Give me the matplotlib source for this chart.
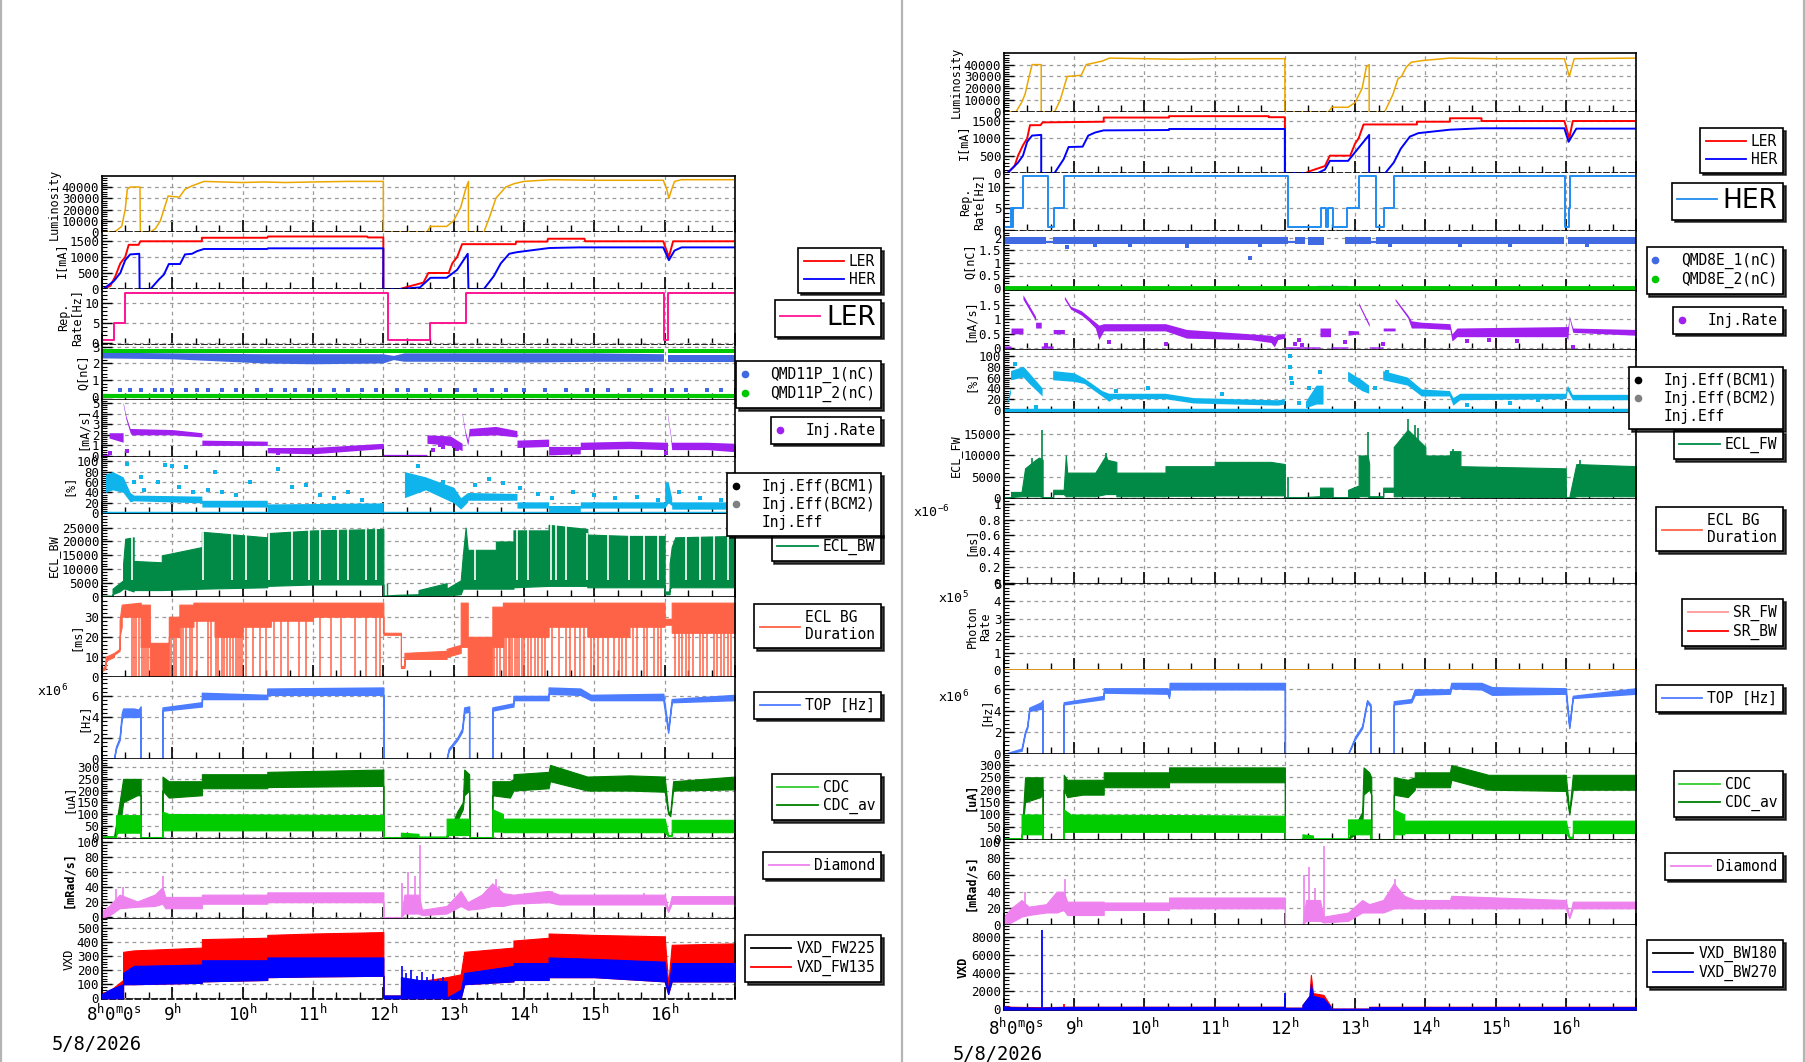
import numpy as np
import matplotlib
matplotlib.use("Agg")
import matplotlib.pyplot as plt
from matplotlib.ticker import MultipleLocator, AutoMinorLocator, FuncFormatter
from matplotlib.lines import Line2D
import matplotlib.transforms as mtrans

nan = np.nan
W, H = 1806, 1062

plt.rcParams['font.family'] = ['DejaVu Sans Mono', 'DejaVu Sans']
plt.rcParams['mathtext.default'] = 'regular'

# ---------------- data, left page (LER) ----------------
lumi_l_t = [8.0, 8.17, 8.22, 8.28, 8.33, 8.36, 8.40, 8.54, 8.545, 8.69, 8.76, 8.83, 8.88, 8.94, 9.10, 9.18, 9.28, 9.45, 9.7, 10.0,
            10.3, 10.6, 11.0, 11.5, 12.0, 12.0, 12.62, 12.67, 12.9, 13.0, 13.1, 13.17, 13.21, 13.21, 13.43, 13.52, 13.6, 13.74, 13.86, 14.0,
            14.38, 15.0, 15.5, 15.98, 16.03, 16.06, 16.1, 16.14, 16.24, 17.0]
lumi_l_v = [0, 0, 2000, 5000, 20000, 38000, 40000, 40000, 0, 0, 3000, 10000, 20000, 32000, 31000, 38000, 41000, 45000, 44500, 44000,
            44500, 44000, 44500, 45000, 45000, 0, 0, 5000, 5000, 10000, 22000, 38000, 45000, 0, 0, 15000, 30000, 40000, 43000, 45000,
            46500, 46000, 46000, 46000, 38000, 30000, 38000, 45000, 46500, 46500]

ler_l_t = [8.0, 8.02, 8.12, 8.19, 8.26, 8.33, 8.38, 8.52, 8.545, 9.42, 9.42, 10.35, 10.36, 11.77, 11.78, 12.0, 12.0, 12.24, 12.33, 12.57,
           12.64, 12.93, 12.98, 13.05, 13.12, 13.88, 13.89, 14.33, 14.34, 14.86, 14.87, 15.98, 16.06, 16.12, 17.0]
ler_l_v = [0, 0, 100, 400, 800, 1000, 1380, 1380, 1490, 1490, 1600, 1600, 1640, 1640, 1610, 1610, 0, 0, 60, 200,
           500, 500, 800, 1000, 1400, 1400, 1480, 1480, 1570, 1570, 1490, 1490, 1000, 1490, 1490]
her_l_t = [8.0, 8.02, 8.17, 8.26, 8.33, 8.40, 8.53, 8.535, 8.69, 8.81, 8.88, 8.95, 9.11, 9.18, 9.28, 9.35, 9.45, 10.35, 10.36, 12.0,
           12.0, 12.24, 12.52, 12.67, 12.9, 13.05, 13.2, 13.21, 13.43, 13.57, 13.67, 13.79, 13.9, 14.36, 14.79, 15.98, 16.06, 16.14, 16.24, 17.0]
her_l_v = [0, 0, 250, 500, 900, 1080, 1100, 0, 0, 300, 450, 780, 780, 1080, 1100, 1180, 1250, 1250, 1270, 1270,
           0, 0, 50, 350, 350, 600, 1100, 0, 0, 400, 800, 1100, 1150, 1280, 1300, 1300, 900, 1200, 1300, 1300]

rep_l_t = [8.0, 8.17, 8.32, 12.06, 12.67, 13.17, 15.99, 16.05, 17.0]
rep_l_v = [0.8, 5, 12.5, 0.8, 5, 12.5, 0.8, 12.5, 12.5]

q1_l_t = [8.0, 9.0, 10.3, 11.0, 12.0, 12.15, 12.3, 13.0, 14.0, 15.0, 15.99, 16.02, 16.05, 17.0]
q1_l_lo = [2.3, 2.25, 2.0, 1.95, 2.0, 2.2, 2.1, 2.1, 2.05, 2.1, 2.1, nan, 2.1, 2.1]
q1_l_hi = [2.65, 2.6, 2.55, 2.55, 2.55, 2.45, 2.6, 2.6, 2.6, 2.6, 2.55, nan, 2.5, 2.5]
q2_l_t = [8.0, 12.0, 15.99, 16.02, 16.05, 17.0]
q2_l_lo = [2.62, 2.62, 2.62, nan, 2.62, 2.62]
q2_l_hi = [2.85, 2.85, 2.85, nan, 2.85, 2.85]
q2_l_base = [0.03, 0.03, 0.03, nan, 0.03, 0.03]
q1_l_stray = [8.25, 8.4, 8.55, 8.75, 8.85, 9.0, 9.2, 9.35, 9.5, 9.7, 9.9, 10.2, 10.4, 10.6, 10.75, 10.95, 11.1, 11.3, 11.5, 11.7,
              11.9, 12.2, 12.35, 12.6, 12.8, 13.05, 13.3, 13.55, 13.75, 14.0, 14.3, 14.6, 14.9, 15.2, 15.5, 15.8, 16.1, 16.3, 16.6, 16.8]

ir_l_t = [8.0, 8.1, 8.1, 8.3, 8.3, 8.34, 8.4, 8.42, 9.0, 9.42, 9.42, 10.35, 10.35, 11.0, 12.0, 12.0, 12.62, 12.62, 12.95, 13.12,
          13.12, 13.16, 13.2, 13.22, 13.6, 13.9, 13.9, 14.35, 14.35, 14.8, 14.8, 15.5, 16.0, 16.04, 16.04, 16.08, 16.1, 16.6, 17.0]
ir_l_lo = [0, 0, 1.7, 1.3, 4.9, 3.5, 2.2, 2.0, 2.0, 1.8, 1.0, 1.0, 0.3, 0.2, 0.7, 0, 0, 1.2, 1.0, 0.5,
           3.9, 2.2, 1.0, 1.9, 2.0, 1.8, 0.8, 0.9, 0.1, 0.2, 0.6, 0.7, 0.6, 0.5, 3.8, 2.0, 0.6, 0.6, 0.4]
ir_l_hi = [0.15, 0.15, 2.2, 2.2, 5.1, 3.8, 2.6, 2.6, 2.5, 2.2, 1.5, 1.4, 0.8, 0.8, 1.2, 0.15, 0.15, 2.0, 1.9, 1.2,
           4.1, 2.5, 1.5, 2.6, 2.8, 2.4, 1.5, 1.6, 0.9, 0.9, 1.3, 1.4, 1.3, 1.3, 4.0, 2.3, 1.3, 1.3, 1.2]
ir_l_stray = [(8.12, 0.3), (8.35, 0.5), (10.5, 0.3), (12.7, 0.6), (12.8, 1.0), (12.85, 0.8), (13.0, 0.9), (13.05, 0.7), (16.02, 0.3)]

ie_l_t = [8.0, 8.05, 8.05, 8.15, 8.3, 8.4, 8.45, 9.42, 9.42, 10.35, 10.35, 12.0, 12.0, 12.3, 12.3, 12.6, 13.0, 13.1, 13.2, 13.2,
          13.9, 13.9, 14.35, 14.35, 14.8, 14.8, 16.0, 16.0, 16.05, 16.1, 16.1, 17.0]
ie_l_lo = [0, 0, 40, 45, 40, 22, 24, 20, 12, 12, 2, 3, 0, 0, 30, 45, 20, 8, 22, 25, 25, 10, 10, 2, 2, 10, 10, 10, 20, 15, 8, 8]
ie_l_hi = [2, 2, 75, 80, 70, 40, 35, 33, 25, 25, 18, 20, 2, 2, 80, 70, 50, 30, 40, 40, 38, 22, 22, 15, 15, 22, 22, 60, 60, 30, 22, 22]
ie_l_stray = [(8.35, 95), (8.45, 60), (8.55, 70), (8.6, 45), (8.7, 30), (8.8, 60), (8.9, 92), (9.0, 90), (9.1, 50), (9.2, 88),
              (9.3, 40), (9.5, 45), (9.6, 80), (9.7, 40), (9.9, 35), (10.1, 60), (10.5, 85), (10.7, 50), (10.9, 55), (11.1, 35),
              (11.3, 30), (11.5, 40), (11.7, 25), (12.5, 90), (12.85, 60), (13.3, 55), (13.5, 65), (13.7, 58), (13.95, 48),
              (14.2, 38), (14.4, 30), (14.7, 40), (15.0, 35), (15.3, 30), (15.6, 32), (15.9, 25), (16.2, 40), (16.5, 30), (16.8, 25)]

bw_l_t = [8.0, 8.15, 8.15, 8.25, 8.3, 8.3, 8.33, 8.45, 8.45, 8.85, 8.85, 9.42, 9.42, 10.35, 10.35, 11.0, 12.0, 12.0, 12.2, 12.5,
          12.5, 12.9, 12.9, 13.1, 13.13, 13.17, 13.2, 13.6, 13.6, 13.85, 13.85, 14.35, 14.35, 14.9, 14.9, 15.5, 16.0, 16.0, 16.07, 16.07,
          16.1, 16.15, 17.0]
bw_l_lo = [0, 0, 1000, 2000, 3000, 3000, 3000, 2000, 2500, 2500, 2500, 3000, 3000, 3500, 4000, 4500, 4500, 0, 0, 200,
           500, 500, 500, 1000, 3000, 3000, 3000, 3000, 3000, 3000, 3500, 4000, 4000, 4000, 3500, 3500, 3500, 1000, 1000, 3000,
           3500, 3500, 3500]
bw_l_hi = [500, 500, 3000, 5000, 6000, 12000, 21000, 21500, 13000, 12500, 15000, 18000, 23500, 21500, 23000, 24000, 24500, 500, 800, 1000,
           2500, 5000, 3000, 6000, 15000, 25000, 17000, 17000, 20000, 20000, 24000, 24000, 26000, 24500, 22500, 22000, 22000, 2000, 2000, 12000,
           18000, 21500, 22000]
bw_l_gaps = [8.42, 9.44, 9.85, 10.05, 10.38, 10.7, 10.95, 11.1, 11.35, 11.5, 11.75, 11.9, 13.3, 13.9, 14.05, 14.38, 14.45, 14.6,
             14.9, 15.2, 15.5, 15.7, 15.9, 16.3, 16.5, 16.7, 16.9]

bg_l_t = [8.0, 8.05, 8.05, 8.17, 8.17, 8.25, 8.25, 8.28, 8.28, 8.55, 8.55, 8.68, 8.68, 8.95, 8.95, 9.1, 9.1, 9.3, 9.3, 9.6,
          9.6, 10.0, 10.0, 10.4, 10.4, 11.0, 11.0, 12.0, 12.0, 12.25, 12.25, 12.3, 12.3, 12.9, 12.9, 13.1, 13.1, 13.2, 13.2, 13.55,
          13.55, 13.7, 13.7, 14.35, 14.35, 14.9, 14.9, 15.5, 15.5, 16.0, 16.0, 16.1, 16.1, 17.0]
bg_l_lo = [3, 4, 8, 10, 11, 13, 20, 25, 30, 30, 15, 15, 0, 0, 20, 20, 25, 25, 28, 28,
           20, 20, 25, 25, 28, 28, 30, 30, 21, 21, 4.5, 4.5, 9, 9, 10, 12, 15, 15, 0, 0,
           15, 15, 20, 20, 25, 25, 20, 20, 25, 25, 26, 26, 22, 22]
bg_l_hi = [4, 6, 10, 12, 12, 14, 28, 36, 36, 37, 36, 36, 17, 17, 30, 30, 36, 36, 37, 37,
           37, 37, 37, 37, 37, 37, 37, 37, 22, 22, 5.5, 5.5, 12, 13, 14, 16, 37, 37, 20, 20,
           35, 35, 37, 37, 37, 37, 37, 37, 37, 37, 29, 29, 37, 37]
bg_l_drops = [8.42, 8.45, 8.48, 8.52, 8.57, 8.6, 8.62, 8.65, 8.98, 9.02, 9.05, 9.12, 9.15, 9.2, 9.25, 9.28, 9.35, 9.5, 9.55, 9.62,
              9.65, 9.7, 9.73, 9.78, 9.82, 9.86, 9.9, 9.93, 9.96, 9.99, 10.05, 10.15, 10.25, 10.33, 10.45, 10.55, 10.65, 10.8, 10.9,
              11.1, 11.25, 11.4, 11.6, 11.75, 11.9, 11.95, 13.58, 13.62, 13.66, 13.72, 13.75, 13.78, 13.8, 13.83, 13.87, 13.9, 13.93,
              13.97, 14.0, 14.05, 14.1, 14.15, 14.2, 14.25, 14.3, 14.4, 14.5, 14.6, 14.65, 14.72, 14.8, 14.85, 14.95, 15.0, 15.05,
              15.12, 15.2, 15.28, 15.35, 15.4, 15.45, 15.55, 15.6, 15.7, 15.75, 15.85, 15.9, 15.95, 16.15, 16.2, 16.25, 16.3, 16.35,
              16.4, 16.5, 16.55, 16.6, 16.7, 16.75, 16.8, 16.85, 16.9, 16.95]

top_l_t = [8.0, 8.17, 8.2, 8.25, 8.28, 8.3, 8.45, 8.52, 8.55, 8.55, 8.86, 8.86, 9.42, 9.42, 10.35, 10.35, 12.0, 12.0, 12.9, 12.93,
           13.05, 13.12, 13.15, 13.22, 13.22, 13.55, 13.55, 13.85, 13.85, 14.35, 14.35, 14.8, 14.95, 15.98, 16.05, 16.1, 17.0]
top_l_lo = [0, 0, 1.0, 1.8, 3.8, 4.0, 4.0, 4.0, 4.2, 0, 0, 4.6, 5.0, 5.7, 5.7, 6.1, 6.1, 0, 0, 0.8,
            1.8, 2.6, 4.4, 4.5, 0, 0, 4.6, 5.0, 5.6, 5.6, 6.2, 6.1, 5.6, 5.6, 2.5, 5.4, 5.6]
top_l_hi = [0, 0, 1.2, 2.0, 4.3, 4.8, 4.8, 4.7, 5.0, 0, 0, 4.9, 5.4, 6.3, 6.1, 6.7, 6.8, 0, 0, 1.0,
            2.0, 2.9, 4.9, 5.0, 0, 0, 4.9, 5.3, 6.0, 6.0, 6.8, 6.7, 6.1, 6.2, 2.8, 5.7, 6.1]

cdcav_l_t = [8.0, 8.17, 8.25, 8.3, 8.5, 8.55, 8.55, 8.86, 8.86, 8.95, 9.42, 9.42, 10.35, 10.35, 12.0, 12.0, 12.9, 13.05, 13.13, 13.15,
             13.22, 13.23, 13.55, 13.55, 13.8, 13.85, 13.85, 14.35, 14.37, 14.9, 15.5, 16.0, 16.05, 16.08, 16.12, 17.0]
cdcav_l_lo = [2, 2, 30, 150, 180, 180, 0, 0, 200, 170, 180, 210, 210, 215, 220, 0, 0, 70, 120, 180,
              200, 0, 0, 180, 170, 200, 200, 210, 240, 200, 200, 195, 100, 90, 200, 205]
cdcav_l_hi = [3, 3, 150, 250, 250, 250, 0, 0, 260, 240, 240, 270, 270, 280, 290, 0, 0, 110, 150, 290,
              270, 0, 0, 240, 240, 250, 270, 280, 310, 260, 265, 260, 110, 110, 240, 260]
cdc_l_t = [8.0, 8.2, 8.2, 8.55, 8.55, 8.86, 8.86, 8.95, 12.0, 12.0, 12.25, 12.25, 12.5, 12.5, 12.9, 12.9, 13.22, 13.22, 13.55, 13.55,
           13.7, 13.7, 16.0, 16.05, 16.1, 16.1, 17.0]
cdc_l_lo = [2, 2, 20, 20, 0, 0, 30, 30, 30, 0, 0, 5, 5, 2, 2, 10, 10, 0, 0, 25, 25, 22, 22, 5, 5, 22, 22]
cdc_l_hi = [3, 3, 95, 95, 0, 0, 110, 100, 95, 0, 0, 20, 15, 3, 3, 80, 80, 0, 0, 120, 100, 80, 80, 10, 10, 75, 75]

dia_l_t = [8.0, 8.1, 8.25, 8.5, 8.75, 8.86, 8.9, 9.42, 9.42, 10.35, 10.35, 12.0, 12.0, 12.25, 12.3, 12.5, 12.55, 12.9, 13.1, 13.2,
           13.4, 13.55, 13.7, 13.85, 14.35, 14.5, 16.0, 16.05, 16.1, 17.0]
dia_l_lo = [0, 2, 12, 14, 15, 18, 12, 12, 18, 18, 20, 20, 0, 0, 5, 5, 3, 5, 15, 10, 12, 15, 15, 18, 20, 17, 17, 7, 18, 18]
dia_l_hi = [8, 15, 30, 21, 30, 40, 27, 27, 30, 30, 33, 33, 0, 0, 30, 30, 10, 15, 35, 20, 30, 45, 32, 30, 35, 30, 30, 10, 28, 28]
dia_l_spk_t = [8.2, 8.3, 8.87, 12.27, 12.35, 12.45, 12.52, 13.6, 13.65, 14.4, 15.7]
dia_l_spk_v = [38, 40, 55, 45, 60, 55, 95, 50, 42, 35, 32]

vxd_l_t = [8.0, 8.1, 8.3, 8.3, 8.45, 9.42, 9.42, 10.35, 10.35, 11.0, 12.0, 12.0, 12.25, 12.25, 12.5, 12.9, 12.9, 13.1, 13.15, 13.85,
           13.85, 14.35, 14.35, 15.0, 16.0, 16.05, 16.1, 17.0]
vxd_l_lo = [0, 0, 0, 100, 100, 110, 120, 130, 150, 155, 160, 0, 0, 0, 0, 0, 0, 0, 100, 120, 130, 130, 150, 150, 120, 30, 120, 120]
fw225_hi = [40, 50, 130, 330, 340, 360, 420, 430, 450, 460, 470, 20, 20, 80, 120, 150, 150, 170, 330, 360, 410, 430, 460, 450, 440, 100, 380, 390]
fw135_hi = [30, 60, 100, 180, 230, 240, 270, 270, 290, 290, 290, 20, 20, 150, 130, 120, 5, 60, 180, 230, 250, 250, 290, 280, 260, 50, 250, 250]
fw135_spk_t = [12.27, 12.32, 12.4, 12.48, 12.55, 12.62, 12.7, 12.78, 12.85]
fw135_spk_v = [230, 180, 200, 160, 190, 150, 170, 140, 150]

# ---------------- data, right page (HER) ----------------
lumi_r_t = [8.0, 8.17, 8.25, 8.3, 8.35, 8.4, 8.53, 8.53, 8.72, 8.8, 8.9, 9.1, 9.17, 9.25, 9.4, 9.5, 10.0, 10.5, 11.0, 11.5,
            12.0, 12.0, 12.62, 12.67, 12.9, 13.0, 13.1, 13.16, 13.2, 13.2, 13.42, 13.54, 13.61, 13.66, 13.73, 13.8, 13.97, 14.35, 15.0, 15.5,
            15.98, 16.05, 16.12, 17.0]
lumi_r_v = [0, 0, 8000, 15000, 28000, 40000, 40000, 0, 0, 10000, 30000, 31000, 40000, 41000, 43000, 45500, 45000, 44500, 45000, 45000,
            45000, 0, 0, 4000, 4000, 8000, 20000, 38000, 40000, 0, 0, 15000, 28000, 30000, 38000, 42000, 43500, 45500, 45000, 45000,
            45000, 30000, 45000, 45500]
ler_r_t = [8.0, 8.05, 8.15, 8.2, 8.27, 8.33, 8.37, 8.52, 8.55, 9.42, 9.42, 10.35, 10.35, 11.77, 11.77, 12.0, 12.0, 12.3, 12.35, 12.57,
           12.64, 12.93, 13.0, 13.05, 13.12, 13.88, 13.88, 14.35, 14.35, 14.8, 14.8, 15.98, 16.05, 16.1, 17.0]
ler_r_v = [0, 0, 200, 500, 800, 1000, 1380, 1380, 1460, 1480, 1600, 1600, 1640, 1640, 1610, 1610, 0, 0, 50, 200,
           500, 500, 850, 1000, 1400, 1400, 1480, 1480, 1580, 1580, 1500, 1500, 1000, 1500, 1500]
her_r_t = [8.0, 8.05, 8.2, 8.27, 8.33, 8.4, 8.53, 8.53, 8.72, 8.85, 8.92, 9.12, 9.2, 9.3, 9.42, 10.35, 10.35, 12.0, 12.0, 12.47,
           12.57, 12.64, 12.9, 13.0, 13.2, 13.2, 13.43, 13.55, 13.65, 13.78, 13.9, 14.35, 14.8, 15.98, 16.04, 16.15, 17.0]
her_r_v = [0, 0, 300, 500, 900, 1080, 1100, 0, 0, 400, 750, 760, 1080, 1170, 1230, 1240, 1270, 1270, 0, 0,
           100, 350, 350, 600, 1100, 0, 0, 300, 700, 1050, 1150, 1250, 1290, 1290, 900, 1280, 1280]

rep_r_t = [8.0, 8.1, 8.11, 8.13, 8.27, 8.63, 8.71, 8.86, 12.05, 12.52, 12.58, 12.61, 12.69, 12.89, 13.06, 13.3, 13.41, 13.56,
           15.99, 16.04, 16.06, 17.0]
rep_r_v = [0.6, 5, 0.6, 5, 12.5, 0.6, 5, 12.5, 0.6, 5, 0.6, 5, 0.6, 5, 12.5, 0.6, 5, 12.5, 0.6, 5, 12.5, 12.5]

q1_r_t = [8.0, 8.6, 8.62, 8.7, 12.0, 12.05, 12.1, 12.15, 12.28, 12.3, 12.33, 12.55, 12.7, 12.85, 13.23, 13.26, 13.3, 15.98, 16.0, 16.03, 17.0]
q1_r_lo = [1.77, 1.77, nan, 1.77, 1.77, 1.77, nan, 1.77, 1.77, nan, 1.73, 1.73, nan, 1.77, 1.77, nan, 1.77, 1.77, nan, 1.77, 1.77]
q1_r_hi = [2.05, 2.05, nan, 2.05, 2.05, 2.05, nan, 2.05, 2.05, nan, 2.02, 2.02, nan, 2.05, 2.05, nan, 2.05, 2.05, nan, 2.05, 2.05]
q1_r_link_t = [8.6, 8.7, nan, 12.05, 12.15, nan, 13.23, 13.3, nan, 12.47, 12.88]
q1_r_link_v = [1.84, 1.84, nan, 1.84, 1.84, nan, 1.84, 1.84, nan, 0.05, 0.05]
q1_r_stray = [(8.9, 1.65), (9.3, 1.7), (9.8, 1.72), (10.6, 1.68), (11.5, 1.2), (11.65, 1.7), (13.5, 1.72), (14.5, 1.7), (15.2, 1.72), (16.3, 1.7)]

ir_r_t = [8.0, 8.1, 8.1, 8.27, 8.27, 8.45, 8.45, 8.53, 8.53, 8.7, 8.7, 8.86, 8.86, 8.95, 9.1, 9.2, 9.3, 9.35, 9.42, 10.3,
          10.6, 11.5, 11.8, 11.85, 11.9, 12.0, 12.0, 12.5, 12.5, 12.65, 12.65, 12.9, 12.9, 13.05, 13.05, 13.2, 13.2, 13.4, 13.4, 13.57,
          13.57, 13.75, 13.8, 13.95, 14.35, 14.38, 14.45, 16.0, 16.03, 16.05, 16.1, 17.0]
ir_r_lo = [0, 0, 0.5, 0.5, 1.7, 0.95, 0.7, 0.7, 0, 0, 0.5, 0.5, 1.7, 1.35, 1.15, 0.95, 0.7, 0.3, 0.6, 0.6,
           0.35, 0.3, 0.2, 0.05, 0.3, 0.35, 0, 0, 0.4, 0.4, 0, 0, 0.45, 0.5, 1.5, 0.75, 0, 0, 0.6, 0.6,
           1.65, 1.05, 0.7, 0.7, 0.65, 0.25, 0.4, 0.4, 0.3, 1.05, 0.55, 0.45]
ir_r_hi = [0.08, 0.08, 0.7, 0.7, 1.85, 1.1, 0.9, 0.9, 0.08, 0.08, 0.65, 0.65, 1.8, 1.45, 1.3, 1.1, 0.9, 0.8, 0.85, 0.85,
           0.65, 0.5, 0.45, 0.4, 0.5, 0.5, 0.05, 0.05, 0.7, 0.7, 0.05, 0.05, 0.62, 0.6, 1.58, 0.85, 0.05, 0.05, 0.7, 0.7,
           1.72, 1.15, 0.95, 0.9, 0.85, 0.5, 0.7, 0.75, 0.75, 1.12, 0.7, 0.65]
ir_r_stray = [(8.6, 0.1), (9.5, 0.2), (10.3, 0.15), (12.15, 0.15), (12.2, 0.3), (12.25, 0.12), (12.85, 0.2), (13.4, 0.15),
              (14.6, 0.25), (14.9, 0.3), (15.3, 0.25), (16.1, 0.05)]

ie_r_t = [8.0, 8.05, 8.05, 8.1, 8.1, 8.28, 8.35, 8.55, 8.6, 8.7, 9.0, 9.15, 9.4, 9.5, 9.55, 10.3, 10.7, 11.9, 12.0, 12.1,
          12.3, 12.45, 12.55, 12.7, 12.9, 13.1, 13.2, 13.3, 13.4, 13.75, 13.95, 14.35, 14.4, 14.5, 16.0, 16.03, 16.1, 17.0]
ie_r_lo = [0, 0, 10, 30, 55, 60, 50, 25, nan, 55, 52, 48, 25, 15, 20, 20, 12, 8, 10, nan,
           3, 10, 10, nan, 53, 35, 30, nan, 55, 45, 25, 25, 8, 18, 20, 35, 18, 18]
ie_r_hi = [2, 2, 15, 40, 72, 80, 70, 40, nan, 72, 68, 58, 35, 30, 30, 30, 22, 18, 20, nan,
           15, 45, 45, nan, 71, 55, 45, nan, 72, 60, 38, 35, 22, 30, 30, 45, 28, 28]
ie_r_stray = [(8.15, 85), (8.45, 5), (9.6, 35), (10.05, 40), (11.1, 30), (12.07, 100), (12.07, 80), (12.08, 60), (12.1, 50),
              (12.2, 12), (12.35, 40), (12.5, 70), (13.28, 40), (13.45, 70), (14.6, 10), (15.2, 12), (15.6, 18)]

fw_t = [8.0, 8.1, 8.1, 8.25, 8.3, 8.45, 8.5, 8.55, 8.55, 8.7, 8.7, 8.85, 8.88, 8.9, 9.3, 9.45, 9.47, 9.6, 9.6, 10.3,
        10.3, 11.0, 11.0, 11.8, 12.0, 12.0, 12.25, 12.5, 12.5, 12.68, 12.68, 12.9, 12.9, 13.05, 13.05, 13.18, 13.2, 13.2, 13.4, 13.4,
        13.55, 13.55, 13.75, 14.0, 14.0, 14.35, 14.35, 14.5, 14.5, 16.0, 16.0, 16.05, 16.15, 17.0]
fw_lo = [0, 0, 300, 500, 500, 500, 500, 300, 0, 0, 1000, 1000, 500, 500, 500, 1000, 1000, 1000, 500, 500,
         600, 600, 700, 700, 700, 0, 0, 0, 300, 300, 0, 0, 300, 300, 500, 500, 0, 0, 0, 1500,
         1500, 500, 500, 500, 500, 500, 500, 500, 300, 300, 0, 0, 500, 500]
fw_hi = [300, 300, 1500, 1500, 7000, 9000, 9500, 9000, 300, 300, 2000, 2000, 10000, 6000, 6000, 10000, 9000, 8500, 6000, 6000,
         7500, 7500, 8500, 8500, 8000, 300, 300, 500, 2500, 2500, 300, 300, 2000, 3000, 10000, 10000, 8000, 500, 500, 2500,
         2500, 12000, 16000, 12000, 10000, 10000, 11000, 11000, 7500, 7000, 300, 300, 8000, 7500]
fw_spk_t = [8.4, 8.545, 9.45, 12.05, 13.18, 13.75, 13.8, 13.85, 13.9, 14.4, 16.2]
fw_spk_v = [9500, 16000, 10500, 5000, 15500, 18500, 15000, 17000, 16500, 11500, 9000]

top_r_t = [8.0, 8.25, 8.3, 8.33, 8.36, 8.53, 8.55, 8.55, 8.85, 8.85, 9.42, 9.42, 10.33, 10.35, 10.36, 12.0, 12.0, 12.9, 13.0, 13.1,
           13.15, 13.17, 13.22, 13.22, 13.55, 13.55, 13.8, 13.85, 14.35, 14.37, 14.8, 14.95, 16.0, 16.05, 16.1, 17.0]
top_r_lo = [0, 0.3, 1.9, 2.4, 4.0, 4.2, 4.6, 0, 0, 4.6, 5.1, 5.7, 5.6, 5.2, 6.0, 6.0, 0, 0, 1.4, 2.4,
            4.1, 4.8, 4.4, 0, 0, 4.6, 4.8, 5.5, 5.6, 6.1, 6.0, 5.5, 5.6, 2.4, 5.2, 5.6]
top_r_hi = [0, 0.5, 2.1, 2.6, 4.3, 4.8, 5.0, 0, 0, 4.8, 5.4, 6.1, 6.1, 5.4, 6.6, 6.6, 0, 0, 1.6, 2.6,
            4.3, 5.0, 4.6, 0, 0, 4.9, 5.1, 6.0, 6.0, 6.6, 6.6, 6.2, 6.1, 2.6, 5.4, 6.1]

cdcav_r_t = [8.0, 8.25, 8.3, 8.52, 8.55, 8.55, 8.85, 8.85, 8.9, 9.12, 9.42, 9.42, 10.35, 10.35, 12.0, 12.0, 12.9, 13.1, 13.12, 13.2,
             13.23, 13.23, 13.55, 13.55, 13.75, 13.85, 13.85, 14.35, 14.37, 14.9, 16.0, 16.05, 16.1, 17.0]
cdcav_r_lo = [2, 2, 150, 170, 200, 0, 0, 200, 170, 180, 180, 210, 210, 230, 230, 0, 0, 40, 180, 200,
              180, 0, 0, 180, 170, 200, 210, 210, 240, 200, 195, 100, 200, 200]
cdcav_r_hi = [3, 3, 250, 250, 250, 0, 0, 260, 240, 240, 240, 270, 270, 290, 290, 0, 0, 110, 290, 270,
              250, 0, 0, 250, 240, 250, 270, 270, 300, 260, 260, 110, 260, 260]
cdc_r_t = [8.0, 8.25, 8.25, 8.55, 8.55, 8.85, 8.85, 8.95, 12.0, 12.0, 12.25, 12.25, 12.4, 12.4, 12.9, 12.9, 13.22, 13.22, 13.55, 13.55,
           13.7, 13.7, 16.0, 16.05, 16.1, 16.1, 17.0]
cdc_r_lo = [2, 2, 20, 20, 0, 0, 30, 30, 30, 0, 0, 5, 5, 2, 2, 20, 20, 0, 0, 20, 20, 25, 25, 5, 5, 25, 25]
cdc_r_hi = [3, 3, 100, 100, 0, 0, 120, 100, 95, 0, 0, 20, 15, 3, 3, 80, 80, 0, 0, 120, 100, 75, 75, 10, 10, 75, 75]

dia_r_t = [8.0, 8.1, 8.25, 8.35, 8.6, 8.75, 8.85, 8.9, 9.42, 9.42, 10.35, 10.35, 12.0, 12.0, 12.25, 12.3, 12.5, 12.55, 12.9, 13.1,
           13.2, 13.4, 13.55, 13.7, 13.85, 14.35, 14.37, 16.0, 16.05, 16.1, 17.0]
dia_r_lo = [0, 3, 10, 12, 15, 15, 18, 12, 12, 18, 18, 20, 20, 0, 0, 5, 5, 3, 5, 15, 15, 15, 20, 20, 20, 20, 20, 20, 8, 20, 20]
dia_r_hi = [10, 20, 30, 22, 25, 40, 40, 28, 28, 27, 27, 33, 33, 0, 0, 30, 30, 10, 15, 30, 25, 30, 50, 35, 30, 30, 35, 30, 10, 28, 28]
dia_r_spk_t = [8.3, 8.87, 12.27, 12.35, 12.43, 12.55, 13.57, 14.2]
dia_r_spk_v = [40, 55, 60, 70, 45, 95, 55, 30]

vxd_r_t = [8.0, 8.1, 8.5, 8.9, 12.0, 12.0, 12.25, 12.25, 12.35, 12.37, 12.4, 12.55, 12.65, 12.65, 13.2, 13.2, 17.0]
bw180_hi = [400, 300, 250, 300, 300, 200, 200, 500, 1500, 3800, 1800, 1600, 400, 100, 100, 300, 300]
bw270_hi = [350, 250, 200, 280, 280, 180, 180, 500, 1500, 2800, 1500, 1200, 300, 80, 80, 250, 250]
bw270_spk_t = [8.54, 12.0]
bw270_spk_v = [8700, 1800]
bw180_spk_t = [8.85]
bw180_spk_v = [600]

hours = list(range(8, 17))

# ---------------- colours ----------------
C_LUMI = '#eba700'
C_LER = '#ff0000'
C_HER = '#0000ff'
C_REPL = '#ff1493'
C_REPH = '#1e8cf0'
C_Q1 = '#4169e1'
C_Q2 = '#00c800'
C_IR = '#a020f0'
C_IE = '#10b4ec'
C_ECL = '#008a45'
C_BG = '#ff6347'
C_TOP = '#4c7cff'
C_CDCAV = '#008000'
C_CDC = '#00cc00'
C_DIA = '#ee82ee'

fig = plt.figure(figsize=(W / 100, H / 100), dpi=100)


def make_stack(x0, x1, edges):
    axs = []
    for top, bot in zip(edges[:-1], edges[1:]):
        axs.append(fig.add_axes([x0 / W, 1 - bot / H, (x1 - x0) / W, (bot - top) / H]))
    return axs


fmt = FuncFormatter(lambda v, p: '%g' % (round(v, 6) + 0.0))


def style(ax, ylim, step, label, top=False, dashed=False, bold=False):
    ax.set_xlim(8, 17)
    ax.set_ylim(*ylim)
    ax.set_axisbelow(True)
    ax.xaxis.set_major_locator(MultipleLocator(1))
    ax.xaxis.set_minor_locator(MultipleLocator(1 / 3))
    ax.yaxis.set_major_locator(MultipleLocator(step))
    ax.yaxis.set_minor_locator(AutoMinorLocator(5))
    ax.yaxis.set_major_formatter(fmt)
    ax.tick_params(axis='x', which='both', direction='in', labelbottom=False, top=False)
    ax.tick_params(axis='x', which='major', length=9, width=1.2)
    ax.tick_params(axis='x', which='minor', length=5, width=1)
    ax.tick_params(axis='y', which='major', direction='in', length=7, width=1, labelsize=9, pad=2)
    ax.tick_params(axis='y', which='minor', direction='in', length=3.5, width=0.8)
    ax.grid(True, which='major', linestyle=(0, (3, 3)), color='#9a9a9a', lw=0.9)
    ax.spines['top'].set_visible(top)
    if dashed:
        ax.spines['bottom'].set_linestyle((0, (3, 2)))
    for s in ax.spines.values():
        s.set_linewidth(1.2)
    ax.set_ylabel(label, fontsize=8.5, labelpad=1, linespacing=1.0,
                  fontweight='bold' if bold else 'normal')


def band(ax, t, lo, hi, color, lw=0.0, z=2):
    ax.fill_between(np.array(t, float), np.array(lo, float), np.array(hi, float),
                    facecolor=color, edgecolor=color, lw=lw, zorder=z)


def dots(ax, pts, color, s=5):
    ax.scatter([p[0] for p in pts], [p[1] for p in pts], s=s, marker='s', color=color, lw=0, zorder=3)


def time_labels(ax, dy):
    tr = mtrans.blended_transform_factory(ax.transData, ax.transAxes)
    for h in hours:
        if h == 8:
            ax.text(8, 0, r'$8^{h}0^{m}0^{s}$', ha='left', va='top', fontsize=12.5,
                    transform=mtrans.offset_copy(tr, fig=fig, x=-16, y=dy, units='dots'))
        else:
            ax.text(h, 0, r'$%d^{h}$' % h, ha='center', va='top', fontsize=12.5,
                    transform=mtrans.offset_copy(tr, fig=fig, x=0, y=dy, units='dots'))


# ================= left page =================
axL = make_stack(102, 735, [176, 232, 289, 345, 400, 457, 514, 597, 677, 759, 839, 919, 999])

a = axL[0]
a.plot(lumi_l_t, lumi_l_v, color=C_LUMI, lw=1.1)
style(a, (0, 49800), 10000, 'Luminosity', top=True, dashed=True)

a = axL[1]
a.plot(ler_l_t, ler_l_v, color=C_LER, lw=1.4)
a.plot(her_l_t, her_l_v, color=C_HER, lw=1.4)
style(a, (0, 1780), 500, 'I[mA]', dashed=True)

a = axL[2]
a.plot(rep_l_t, rep_l_v, color=C_REPL, lw=1.4, drawstyle='steps-post')
style(a, (-0.5, 13.6), 5, 'Rep.\nRate[Hz]', dashed=True)

a = axL[3]
band(a, q1_l_t, q1_l_lo, q1_l_hi, C_Q1)
band(a, q2_l_t, q2_l_lo, q2_l_hi, C_Q2)
a.plot(q2_l_t, q2_l_base, color=C_Q2, lw=3)
dots(a, [(t, 0.4) for t in q1_l_stray], C_Q1, s=6)
style(a, (-0.18, 3.1), 1, 'Q[nC]')

a = axL[4]
band(a, ir_l_t, ir_l_lo, ir_l_hi, C_IR)
dots(a, ir_l_stray, C_IR, s=7)
style(a, (-0.1, 5.3), 1, '[mA/s]')

a = axL[5]
band(a, ie_l_t, ie_l_lo, ie_l_hi, C_IE)
a.plot([8, 17], [0, 0], color=C_IE, lw=2.5)
dots(a, ie_l_stray, C_IE, s=6)
style(a, (-1.3, 108), 20, '[%]')

a = axL[6]
band(a, bw_l_t, bw_l_lo, bw_l_hi, C_ECL, lw=0.8)
a.vlines(bw_l_gaps, 6000, np.interp(bw_l_gaps, bw_l_t, bw_l_hi) + 400, color='white', lw=1.2, zorder=3)
a.vlines([12.05], 0, 5000, color=C_ECL, lw=1)
style(a, (0, 29900), 5000, 'ECL_BW')

a = axL[7]
band(a, bg_l_t, bg_l_lo, bg_l_hi, C_BG, lw=0.8)
a.vlines(bg_l_drops, 0, np.interp(bg_l_drops, bg_l_t, bg_l_lo) + 1, color=C_BG, lw=1.1)
style(a, (0, 39.8), 10, '[ms]')

a = axL[8]
band(a, top_l_t, top_l_lo, top_l_hi, C_TOP, lw=1)
style(a, (0, 7.8), 2, '[Hz]')

a = axL[9]
band(a, cdcav_l_t, cdcav_l_lo, cdcav_l_hi, C_CDCAV, lw=0.8)
band(a, cdc_l_t, cdc_l_lo, cdc_l_hi, C_CDC, lw=0.8)
style(a, (-7, 335), 50, '[uA]')

a = axL[10]
band(a, dia_l_t, dia_l_lo, dia_l_hi, C_DIA, lw=0.8)
a.vlines(dia_l_spk_t, np.interp(dia_l_spk_t, dia_l_t, dia_l_lo), dia_l_spk_v, color=C_DIA, lw=1.2)
style(a, (-2.2, 103.5), 20, '[mRad/s]', bold=True)

a = axL[11]
band(a, vxd_l_t, vxd_l_lo, fw225_hi, C_LER, lw=0.8)
band(a, vxd_l_t, vxd_l_lo, fw135_hi, C_HER, lw=0.8, z=3)
a.vlines(fw135_spk_t, 0, fw135_spk_v, color=C_HER, lw=1.2, zorder=3)
style(a, (-5, 563), 100, 'VXD', dashed=True)
time_labels(a, -5)

# ================= right page =================
axR = make_stack(1004, 1636, [53, 112, 173, 231, 291, 350, 413, 499, 584, 670, 754, 840, 925, 1010])

a = axR[0]
a.plot(lumi_r_t, lumi_r_v, color=C_LUMI, lw=1.1)
style(a, (0, 49800), 10000, 'Luminosity', top=True, dashed=True)

a = axR[1]
a.plot(ler_r_t, ler_r_v, color=C_LER, lw=1.4)
a.plot(her_r_t, her_r_v, color=C_HER, lw=1.4)
style(a, (0, 1760), 500, 'I[mA]', dashed=True)

a = axR[2]
a.plot(rep_r_t, rep_r_v, color=C_REPH, lw=1.4, drawstyle='steps-post')
style(a, (-0.23, 13.2), 5, 'Rep.\nRate[Hz]', dashed=True)

a = axR[3]
band(a, q1_r_t, q1_r_lo, q1_r_hi, C_Q1)
a.plot(q1_r_link_t, q1_r_link_v, color=C_Q1, lw=1.6)
dots(a, q1_r_stray, C_Q1, s=6)
a.plot([8, 17], [0.0, 0.0], color=C_Q2, lw=3.5)
style(a, (-0.12, 2.28), 0.5, 'Q[nC]')

a = axR[4]
band(a, ir_r_t, ir_r_lo, ir_r_hi, C_IR)
dots(a, ir_r_stray, C_IR, s=7)
style(a, (-0.06, 1.98), 0.5, '[mA/s]')

a = axR[5]
band(a, ie_r_t, ie_r_lo, ie_r_hi, C_IE)
a.plot([8, 17], [0, 0], color=C_IE, lw=2.5)
dots(a, ie_r_stray, C_IE, s=6)
style(a, (-5.6, 111), 20, '[%]')

a = axR[6]
band(a, fw_t, fw_lo, fw_hi, C_ECL, lw=0.8)
a.vlines(fw_spk_t, np.interp(fw_spk_t, fw_t, fw_lo), fw_spk_v, color=C_ECL, lw=1.2)
style(a, (-150, 19900), 5000, 'ECL_FW')

a = axR[7]
style(a, (-0.015, 1.06), 0.2, '[ms]')

a = axR[8]
a.plot([8, 17], [0, 0], color='#ff9999', lw=1)
a.plot([8, 17], [0, 0], color='red', lw=1)
a.plot([8, 17], [0, 0], color='#f0a020', lw=1.3, clip_on=False, zorder=5)
style(a, (0, 5.01), 1, 'Photon\nRate')

a = axR[9]
band(a, top_r_t, top_r_lo, top_r_hi, C_TOP, lw=1)
style(a, (0, 7.8), 2, '[Hz]')

a = axR[10]
band(a, cdcav_r_t, cdcav_r_lo, cdcav_r_hi, C_CDCAV, lw=0.8)
band(a, cdc_r_t, cdc_r_lo, cdc_r_hi, C_CDC, lw=0.8)
style(a, (-3, 344), 50, '[uA]', bold=True)

a = axR[11]
band(a, dia_r_t, dia_r_lo, dia_r_hi, C_DIA, lw=0.8)
a.vlines(dia_r_spk_t, np.interp(dia_r_spk_t, dia_r_t, dia_r_lo), dia_r_spk_v, color=C_DIA, lw=1.2)
style(a, (0, 102), 20, '[mRad/s]', bold=True)

a = axR[12]
band(a, vxd_r_t, np.zeros(len(vxd_r_t)), bw180_hi, C_LER, lw=0.8)
band(a, vxd_r_t, np.zeros(len(vxd_r_t)), bw270_hi, C_HER, lw=0.8, z=3)
a.vlines(bw270_spk_t, 0, bw270_spk_v, color=C_HER, lw=1.3, zorder=3)
a.vlines(bw180_spk_t, 0, bw180_spk_v, color=C_LER, lw=1.3)
style(a, (-60, 9290), 2000, 'VXD', bold=True)
time_labels(a, -8)

# ---------------- free texts ----------------
fig.text(52 / W, 1 - 1050 / H, '5/8/2026', fontsize=13.5, va='baseline')
fig.text(953 / W, 1 - 1060 / H, '5/8/2026', fontsize=13.5, va='baseline')
fig.text(37 / W, 1 - 696 / H, r'x10$^{6}$', fontsize=9.5, va='baseline')
fig.text(938 / W, 1 - 702 / H, r'x10$^{6}$', fontsize=9.5, va='baseline')
fig.text(913 / W, 1 - 517 / H, r'x10$^{-6}$', fontsize=9.5, va='baseline')
fig.text(938 / W, 1 - 603 / H, r'x10$^{5}$', fontsize=9.5, va='baseline')

for x in (1.5, 902, 1804):
    fig.add_artist(Line2D([x / W, x / W], [0, 1], transform=fig.transFigure, color='#b4b4b4', lw=1.6))

# ---------------- legends ----------------
MONO = {'family': 'DejaVu Sans Mono', 'size': 10.5}
BIG = {'family': 'DejaVu Sans', 'size': 19}


def ln(c):
    return Line2D([0], [0], color=c, lw=1.3)


def mk(c):
    return Line2D([0], [0], color=c, marker='o', ls='none', markersize=4.5)


def legend(handles, labels, right, top, marker=False, big=False, z=5):
    kw = dict(handlelength=2.75, handletextpad=0.35, borderpad=0.4)
    if marker:
        kw = dict(handlelength=0.4, handletextpad=1.55, borderpad=0.4)
    if big:
        kw = dict(handlelength=1.5, handletextpad=0.23, borderpad=0.2)
    lg = fig.legend(handles, labels, loc='upper right', bbox_to_anchor=(right / W, 1 - top / H),
                    bbox_transform=fig.transFigure, borderaxespad=0, fancybox=False, framealpha=1,
                    edgecolor='black', prop=BIG if big else MONO, labelspacing=0.2,
                    shadow={'ox': 2, 'oy': -2, 'color': 'black', 'alpha': 0.75}, **kw)
    lg.get_frame().set_linewidth(1.2)
    lg.set_zorder(z)
    return lg


none = Line2D([0], [0], ls='none')

legend([ln(C_LER), ln(C_HER)], ['LER', 'HER'], 881, 248)
legend([ln(C_REPL)], ['LER'], 881, 300, big=True)
legend([mk(C_Q1), mk(C_Q2)], ['QMD11P_1(nC)', 'QMD11P_2(nC)'], 881, 361, marker=True)
legend([mk(C_IR)], ['Inj.Rate'], 881, 417, marker=True)
legend([ln(C_ECL)], ['ECL_BW'], 881, 533)
legend([mk('black'), mk('gray'), none], ['Inj.Eff(BCM1)', 'Inj.Eff(BCM2)', 'Inj.Eff'], 881, 473, marker=True, z=6)
legend([ln(C_BG)], ['ECL BG\nDuration'], 881, 604)
legend([ln(C_TOP)], ['TOP [Hz]'], 881, 692)
legend([ln('#33cc33'), ln(C_CDCAV)], ['CDC', 'CDC_av'], 881, 774)
legend([ln(C_DIA)], ['Diamond'], 881, 852)
legend([ln('black'), ln(C_LER)], ['VXD_FW225', 'VXD_FW135'], 881, 935)

legend([ln(C_LER), ln(C_HER)], ['LER', 'HER'], 1783, 128)
legend([ln(C_REPH)], ['HER'], 1783, 183, big=True)
legend([mk(C_Q1), mk(C_Q2)], ['QMD8E_1(nC)', 'QMD8E_2(nC)'], 1783, 247, marker=True)
legend([mk(C_IR)], ['Inj.Rate'], 1783, 307, marker=True)
legend([ln(C_ECL)], ['ECL_FW'], 1783, 431)
legend([mk('black'), mk('gray'), none], ['Inj.Eff(BCM1)', 'Inj.Eff(BCM2)', 'Inj.Eff'], 1783, 367, marker=True, z=6)
legend([ln(C_BG)], ['ECL BG\nDuration'], 1783, 507)
legend([ln('#ff9999'), ln('red')], ['SR_FW', 'SR_BW'], 1783, 599)
legend([ln(C_TOP)], ['TOP [Hz]'], 1783, 685)
legend([ln('#33cc33'), ln(C_CDCAV)], ['CDC', 'CDC_av'], 1783, 771)
legend([ln(C_DIA)], ['Diamond'], 1783, 853)
legend([ln('black'), ln(C_HER)], ['VXD_BW180', 'VXD_BW270'], 1783, 940)

fig.savefig('out.png', dpi=100)
